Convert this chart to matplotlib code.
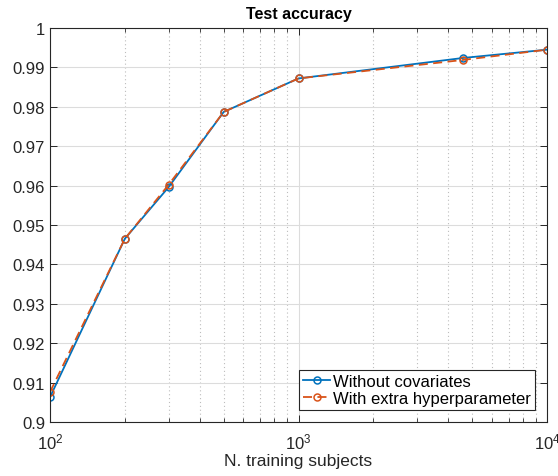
import matplotlib.pyplot as plt
import numpy as np
from matplotlib.ticker import FuncFormatter, LogLocator, NullLocator

plt.rcParams['font.family'] = ['Liberation Sans', 'DejaVu Sans']
plt.rcParams['mathtext.fontset'] = 'custom'
plt.rcParams['mathtext.rm'] = 'Liberation Sans'
plt.rcParams['mathtext.it'] = 'Liberation Sans'

# Data
n_subjects = [100, 200, 300, 500, 1000, 4600, 10000]
acc_without_cov = [0.9063, 0.9465, 0.9596, 0.9787, 0.9872, 0.9924, 0.9945]
acc_extra_hyper = [0.9076, 0.9465, 0.9602, 0.9787, 0.9872, 0.9919, 0.9945]

fig = plt.figure(figsize=(5.58, 4.77), dpi=100)
ax = fig.add_axes([0.0896, 0.1132, 0.8907, 0.8260])

ax.plot(n_subjects, acc_without_cov, '-o', color='#0072BD', lw=1.3,
        markersize=5, markerfacecolor='none', markeredgewidth=1.1,
        label='Without covariates')
ax.plot(n_subjects, acc_extra_hyper, '--o', color='#D95319', lw=1.3,
        markersize=5, markerfacecolor='none', markeredgewidth=1.1,
        dashes=(5, 3), label='With extra hyperparameter')

ax.set_xscale('log')
ax.set_xlim(100, 10000)
ax.set_ylim(0.9, 1.0)
ax.set_yticks(np.arange(0.9, 1.0001, 0.01))
ax.yaxis.set_major_formatter(FuncFormatter(lambda v, p: '%g' % round(v, 2)))
ax.xaxis.set_minor_locator(LogLocator(base=10, subs=np.arange(2, 10)))
ax.yaxis.set_minor_locator(NullLocator())

ax.grid(True, which='major', color='#dcdcdc', lw=0.8)
ax.grid(True, which='minor', axis='x', color='#bdbdbd', lw=0.8, linestyle=(0, (1, 2.5)))
ax.set_axisbelow(True)

ax.tick_params(which='both', direction='in', top=True, right=True,
               labelsize=12, colors='#262626')
ax.tick_params(which='major', length=5, width=0.7)
ax.tick_params(which='minor', length=3, width=0.6)
ax.tick_params(axis='x', pad=7)
for s in ax.spines.values():
    s.set_color('#262626')
    s.set_linewidth(0.8)

ax.set_title('Test accuracy', fontsize=11.5, fontweight='bold', pad=7)
ax.set_xlabel('N. training subjects', fontsize=12.5, color='#262626', labelpad=1)

leg = ax.legend(loc='lower right', fontsize=12, fancybox=False, framealpha=1,
                edgecolor='#262626', handlelength=1.6, handletextpad=0.2,
                borderpad=0.25, labelspacing=0.15, borderaxespad=0.7)
leg.get_frame().set_linewidth(0.8)

fig.savefig('out.png', dpi=100)
